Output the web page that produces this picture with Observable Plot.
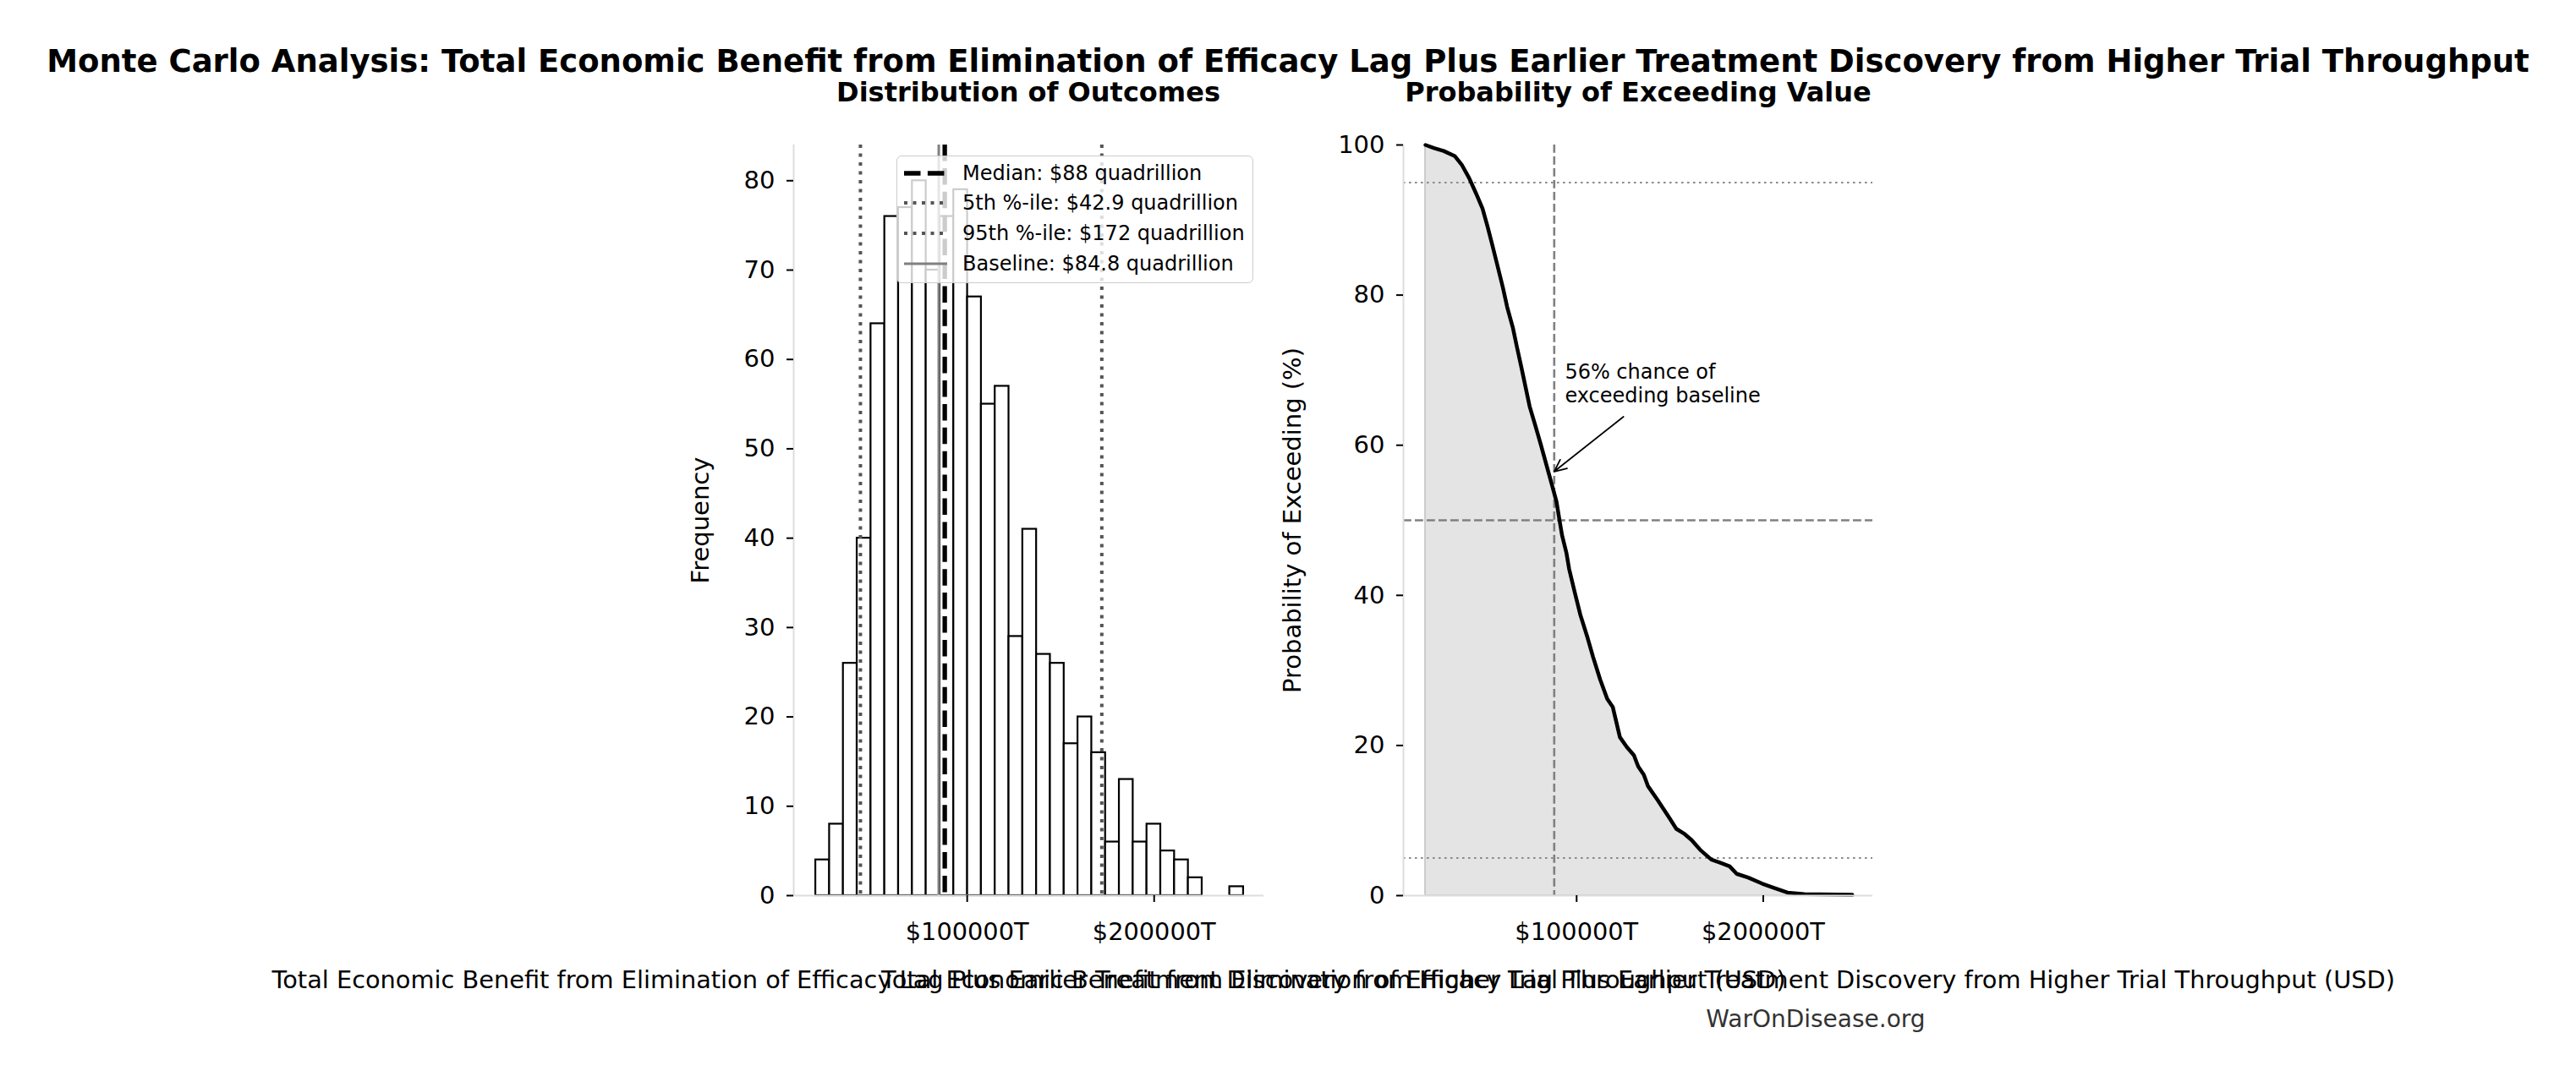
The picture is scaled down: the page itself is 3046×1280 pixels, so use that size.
<!DOCTYPE html>
<html>
<head>
<meta charset="utf-8">
<script src="https://cdn.jsdelivr.net/npm/d3@7"></script>
<script src="https://cdn.jsdelivr.net/npm/@observablehq/plot@0.6"></script>
<style>
  html, body { margin: 0; padding: 0; background: #fff; }
  body { width: 3046px; height: 1280px; position: relative; overflow: hidden; font-family: "DejaVu Sans", sans-serif; color: #000; }
  .abs { position: absolute; white-space: nowrap; line-height: 1; }
  .panel { position: absolute; }
  #legend { position: absolute; box-sizing: border-box; background: rgba(255,255,255,0.8); border: 1.5px solid #cccccc; border-radius: 6px; font-size: 24px; }
  .lrow { position: absolute; left: 0; height: 36px; display: flex; align-items: center; white-space: nowrap; }
</style>
</head>
<body>
<div id="title" class="abs" style="left:0;width:3046px;top:54px;text-align:center;font-size:37px;font-weight:bold;"></div>
<div id="sub1" class="abs" style="left:816px;width:800px;top:92.6px;text-align:center;font-size:32px;font-weight:bold;"></div>
<div id="sub2" class="abs" style="left:1537px;width:800px;top:92.6px;text-align:center;font-size:32px;font-weight:bold;"></div>
<div id="leftPanel" class="panel"></div>
<div id="rightPanel" class="panel"></div>
<div id="legend"></div>
<div id="credit" class="abs" style="left:1847px;width:600px;top:1191.5px;text-align:center;font-size:28px;color:#333;"></div>

<script>
// ---------------- data (values in trillions of USD) ----------------
const titleText = "Monte Carlo Analysis: Total Economic Benefit from Elimination of Efficacy Lag Plus Earlier Treatment Discovery from Higher Trial Throughput";
const subtitles = ["Distribution of Outcomes", "Probability of Exceeding Value"];
const xLabel = "Total Economic Benefit from Elimination of Efficacy Lag Plus Earlier Treatment Discovery from Higher Trial Throughput (USD)";
const creditText = "WarOnDisease.org";

// histogram: 31 equal-width bins between binRange[0] and binRange[1]
const binCounts = [4, 8, 26, 40, 64, 76, 77, 80, 70, 76, 79, 67, 55, 57, 29, 41, 27, 26, 17, 20, 16, 6, 13, 6, 8, 5, 4, 2, 0, 0, 1];
const binRange = [19000, 247800];

// summary statistics
const medianValue = 88000;
const p5Value = 42900;
const p95Value = 172000;
const baselineValue = 84800;

// exceedance curve
const survX = [19000, 23500, 28800, 34800, 38600, 42400, 46200, 49600, 52200, 54900, 57500, 60500, 62800, 65800, 68000, 70300, 72600, 74800, 77900, 80900, 83900, 86900, 89200, 90700, 92200, 94500, 96000, 99000, 102000, 105800, 108800, 112600, 116400, 119400, 123200, 126900, 130700, 133000, 136000, 138200, 143500, 149600, 153400, 157900, 161600, 166200, 172200, 176700, 182000, 185800, 191900, 199400, 205400, 213000, 222000, 247700];
const survP = [100, 99.6, 99.2, 98.5, 97.3, 95.6, 93.5, 91.5, 89.2, 86.6, 84.0, 81.0, 78.4, 75.7, 73.1, 70.5, 67.8, 65.2, 62.6, 60.0, 57.3, 54.6, 52.5, 50.2, 48.0, 45.7, 43.5, 40.4, 37.4, 34.4, 31.8, 28.8, 26.2, 25.1, 21.1, 19.8, 18.7, 17.2, 16.1, 14.6, 12.7, 10.4, 8.9, 8.2, 7.4, 6.1, 4.8, 4.4, 3.9, 2.9, 2.4, 1.6, 1.05, 0.4, 0.2, 0.1];
const refLevels = [95, 5];      // dotted
const midLevel = [50];          // dashed

// annotation (data coordinates)
const annotText = "56% chance of\nexceeding baseline";
const annotTextAt = [93700, 71.2];
const annotTip = [88000, 56.5];
const annotTail = [125100, 63.8];

// axes
const xDomain = [7200, 258700];
const xTicks = [100000, 200000];
const yTicksLeft = [0, 10, 20, 30, 40, 50, 60, 70, 80];
const yDomainLeft = [0, 84];
const yTicksRight = [0, 20, 40, 60, 80, 100];
const yDomainRight = [0, 100];

// ---------------- derived tables ----------------
const nb = binCounts.length;
const bw = (binRange[1] - binRange[0]) / nb;
const bins = binCounts.map((c, i) => ({x1: binRange[0] + i * bw, x2: binRange[0] + (i + 1) * bw, count: c}));
const curve = survX.map((x, i) => ({x, p: survP[i]}));
const fmtT = d => `$${d}T`;
const fmtQ = v => `$${+(v / 1000).toFixed(1)} quadrillion`;

// ---------------- layout ----------------
const FW = 556, FH = 888;           // frame size
const ML = 150, MR = 10, MT = 20, MB = 150;
const frameTop = 171;
const leftFrameX = 938, rightFrameX = 1659;
const SPINE = "#dddddd";

function svgStyle() {
  return {fontFamily: "DejaVu Sans", fontSize: "29px", overflow: "visible", background: "transparent", color: "black"};
}

const leftPlot = Plot.plot({
  width: ML + FW + MR, height: MT + FH + MB,
  marginLeft: ML, marginRight: MR, marginTop: MT, marginBottom: MB,
  style: svgStyle(),
  x: {domain: xDomain},
  y: {domain: yDomainLeft},
  marks: [
    Plot.rectY(bins, {x1: "x1", x2: "x2", y: "count", fill: "white", stroke: "black", strokeWidth: 2.2}),
    Plot.ruleX([p5Value, p95Value], {stroke: "#555555", strokeWidth: 4, strokeDasharray: "4,6.5"}),
    Plot.ruleX([medianValue], {stroke: "black", strokeWidth: 5.3, strokeDasharray: "19.5,8.4"}),
    Plot.ruleX([baselineValue], {stroke: "#808080", strokeWidth: 3}),
    Plot.ruleY([yDomainLeft[0]], {stroke: SPINE, strokeWidth: 2}),
    Plot.ruleX([xDomain[0]], {stroke: SPINE, strokeWidth: 2}),
    Plot.axisY({ticks: yTicksLeft, tickSize: 8, tickPadding: 14, strokeWidth: 2, fontSize: 29,
      label: "Frequency", labelAnchor: "center", labelOffset: 121, labelArrow: "none"}),
    Plot.axisX({ticks: xTicks, tickFormat: fmtT, tickSize: 8, tickPadding: 24, strokeWidth: 2, fontSize: 28.8,
      label: xLabel, labelAnchor: "center", labelOffset: 109, labelArrow: "none"})
  ]
});

const rightPlot = Plot.plot({
  width: ML + FW + MR, height: MT + FH + MB,
  marginLeft: ML, marginRight: MR + 1, marginTop: MT, marginBottom: MB,
  style: svgStyle(),
  x: {domain: xDomain},
  y: {domain: yDomainRight},
  marks: [
    Plot.areaY(curve, {x: "x", y: "p", fill: "#e4e4e4", stroke: "#cccccc", strokeWidth: 2}),
    Plot.ruleY(refLevels, {stroke: "#8c8c8c", strokeWidth: 2, strokeDasharray: "2.6,4.4"}),
    Plot.ruleY(midLevel, {stroke: "#808080", strokeWidth: 2.6, strokeDasharray: "9.8,4.2"}),
    Plot.ruleX([medianValue], {stroke: "#808080", strokeWidth: 2.6, strokeDasharray: "9.8,4.2"}),
    Plot.line(curve, {x: "x", y: "p", stroke: "black", strokeWidth: 4.5, strokeLinejoin: "round"}),
    Plot.arrow([{x1: annotTail[0], y1: annotTail[1], x2: annotTip[0], y2: annotTip[1]}],
      {x1: "x1", y1: "y1", x2: "x2", y2: "y2", stroke: "black", strokeWidth: 1.8, headLength: 13, headAngle: 50}),
    Plot.text([{x: annotTextAt[0], y: annotTextAt[1], t: annotText}],
      {x: "x", y: "y", text: "t", textAnchor: "start", lineAnchor: "top", fontSize: 24, lineHeight: 1.2, fill: "black"}),
    Plot.ruleY([yDomainRight[0]], {stroke: SPINE, strokeWidth: 2}),
    Plot.ruleX([xDomain[0]], {stroke: SPINE, strokeWidth: 2}),
    Plot.axisY({ticks: yTicksRight, tickSize: 8, tickPadding: 14, strokeWidth: 2, fontSize: 29,
      label: "Probability of Exceeding (%)", labelAnchor: "center", labelOffset: 142, labelArrow: "none"}),
    Plot.axisX({ticks: xTicks, tickFormat: fmtT, tickSize: 8, tickPadding: 24, strokeWidth: 2, fontSize: 28.8,
      label: xLabel, labelAnchor: "center", labelOffset: 109, labelArrow: "none"})
  ]
});

function place(id, svg, frameX) {
  const el = document.getElementById(id);
  el.style.left = (frameX - ML) + "px";
  el.style.top = (frameTop - MT) + "px";
  el.style.width = (ML + FW + MR) + "px";
  el.style.height = (MT + FH + MB) + "px";
  el.appendChild(svg);
}
place("leftPanel", leftPlot, leftFrameX);
place("rightPanel", rightPlot, rightFrameX);

document.getElementById("title").textContent = titleText;
document.getElementById("sub1").textContent = subtitles[0];
document.getElementById("sub2").textContent = subtitles[1];
document.getElementById("credit").textContent = creditText;

// ---------------- legend ----------------
const legendItems = [
  {label: `Median: ${fmtQ(medianValue)}`, stroke: "black", width: 5.3, dash: "19.5,8.4"},
  {label: `5th %-ile: ${fmtQ(p5Value)}`, stroke: "#555555", width: 4, dash: "4,6.5"},
  {label: `95th %-ile: ${fmtQ(p95Value)}`, stroke: "#555555", width: 4, dash: "4,6.5"},
  {label: `Baseline: ${fmtQ(baselineValue)}`, stroke: "#808080", width: 3, dash: "none"}
];
const legend = document.getElementById("legend");
legend.style.left = "1060px";
legend.style.top = "184px";
legend.style.width = "422px";
legend.style.height = "151px";
legendItems.forEach((it, i) => {
  const row = document.createElement("div");
  row.className = "lrow";
  row.style.top = (1.6 + i * 35.8) + "px";
  row.innerHTML = `<svg width="51" height="36" style="margin-left:8px;margin-right:18px;overflow:visible">
     <line x1="0" x2="51" y1="18" y2="18" stroke="${it.stroke}" stroke-width="${it.width}" stroke-dasharray="${it.dash}"/></svg>`;
  const span = document.createElement("span");
  span.textContent = it.label;
  row.appendChild(span);
  legend.appendChild(row);
});
</script>
</body>
</html>
